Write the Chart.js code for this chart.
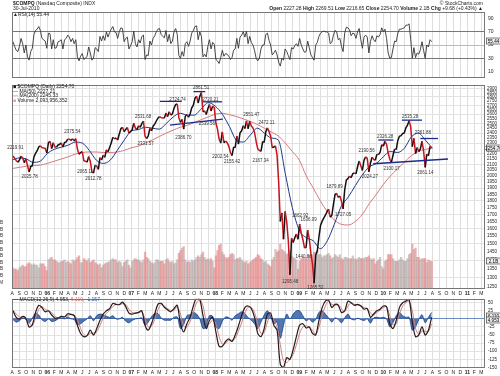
<!DOCTYPE html>
<html>
<head>
<meta charset="utf-8">
<script src="https://cdn.jsdelivr.net/npm/chart.js@4/dist/chart.umd.min.js"></script>
<style>
html,body{margin:0;padding:0;background:#fff}
body{width:500px;height:376px;position:relative;overflow:hidden;font-family:"Liberation Sans",Arial,sans-serif}
canvas{position:absolute;left:0}
.t{position:absolute;font-size:5px;line-height:5px;white-space:nowrap;color:#222}
</style>
</head>
<body>
<canvas id="rsi" width="500" height="84" style="top:0"></canvas>
<canvas id="price" width="500" height="217" style="top:80px"></canvas>
<canvas id="macd" width="500" height="83" style="top:293px"></canvas>

<div class="t" style="left:13px;top:1px"><b>$COMPQ</b> (Nasdaq Composite) INDX</div>
<div class="t" style="left:13px;top:6px">30-Jul-2010</div>
<div class="t" style="right:17px;top:1px">© StockCharts.com</div>
<div class="t" style="right:17px;top:6px"><b>Open</b> 2227.28 <b>High</b> 2269.51 <b>Low</b> 2216.65 <b>Close</b> 2254.70 <b>Volume</b> 2.1B <b>Chg</b> +9.68 (+0.43%) ▲</div>
<div class="t" style="left:13px;top:12px">▲RSI(14) 55.44</div>
<div class="t" style="left:13px;top:84px"><span style="color:#000">■</span> $COMPQ (Daily) 2254.70</div>
<div class="t" style="left:13px;top:88.5px"><span style="color:#1d3a8a">—</span> MA(50) 2227.21</div>
<div class="t" style="left:13px;top:93px"><span style="color:#d66">—</span> MA(200) 2245.33</div>
<div class="t" style="left:13px;top:97.5px"><span style="color:#e99">■</span> Volume 2,093,956,352</div>
<div class="t" style="left:13px;top:297px"><span style="color:#222">—</span> MACD(12,26,9) 4.953, <span style="color:#c66">6.110</span>, <span style="color:#2a5a9a">-1.157</span></div>

<script>
const FONT='"Liberation Sans", Arial, sans-serif'
const X_MIN=2005.58, X_MAX=2011.21
const firstWeek=2005.592      // Fri 5-Aug-2005
const weekStep=7/365.25

// weekly $COMPQ values (close, extremes used at the big turns)
const close05=[2177,2157,2136,2120,2141,2176,2160,2116,2152,2090,2035,2082,2090,2169,2203,2227,2263,2273,2256,2253,2249,2205]
const close06=[2305,2317,2247,2304,2262,2261,2282,2288,2302,2262,2306,2312,2340,2339,2326,2342,2322,2343,2243,2193,2210,2219,2135,2130,2121,2172,2130,2038,2025,2094,2086,2057,2163,2141,2184,2165,2235,2218,2258,2300,2357,2342,2350,2330,2390,2445,2460,2413,2437,2457,2401,2415]
const close07=[2434,2502,2451,2435,2475,2459,2497,2525,2368,2345,2372,2448,2422,2471,2492,2526,2557,2573,2562,2559,2557,2613,2573,2627,2589,2603,2666,2707,2715,2562,2511,2544,2440,2577,2596,2566,2602,2671,2701,2780,2805,2726,2804,2850,2627,2637,2596,2661,2709,2635,2691,2674]
const close08=[2504,2440,2340,2300,2413,2304,2321,2303,2271,2212,2180,2258,2261,2370,2290,2402,2423,2476,2445,2528,2444,2523,2474,2454,2406,2316,2245,2230,2220,2310,2310,2414,2453,2415,2368,2256,2262,2273,2183,1947,1650,1711,1530,1721,1647,1517,1316,1536,1509,1540,1564,1530]
const close09=[1632,1571,1530,1477,1476,1591,1534,1441,1378,1270,1431,1457,1546,1622,1652,1673,1694,1719,1739,1680,1692,1774,1849,1858,1827,1838,1797,1740,1886,1966,1979,2000,1985,2020,2028,2018,2080,2132,2090,2048,2139,2170,2155,2035,2112,2167,2146,2138,2194,2190,2212,2285,2269]
const close10=[2317,2288,2205,2147,2120,2184,2243,2238,2326,2368,2374,2395,2402,2454,2481,2530,2461,2265,2347,2200,2257,2219,2243,2320,2224,2075,2196,2179,2269,2255]

// weekly volume, billions
const vol05=[1.6,1.5,1.5,1.4,1.6,1.7,1.8,1.7,1.7,1.9,2.0,1.9,1.8,1.9,1.8,1.8,1.6,1.9,1.9,1.9,1.7,1.4]
const vol06=[2.2,2.3,2.4,2.2,2.2,2.1,2.0,2.0,2.1,2.1,2.2,2.0,2.1,2.0,1.9,2.2,2.1,2.2,2.4,2.5,2.0,2.0,2.3,2.2,2.1,2.3,2.0,2.1,2.2,2.0,1.9,1.8,1.9,1.6,1.8,1.9,2.0,2.0,2.1,2.2,2.3,2.2,2.2,2.0,2.1,2.0,1.7,2.0,2.1,2.2,1.8,1.6]
const vol07=[2.1,2.2,2.3,2.2,2.2,2.1,2.0,2.2,2.8,2.4,2.3,2.1,2.0,1.9,2.0,2.2,2.2,2.1,2.1,2.1,1.9,2.2,2.3,2.1,2.0,2.1,1.9,2.0,2.2,2.7,2.9,3.1,3.2,2.2,2.0,2.1,2.0,2.2,2.1,2.2,2.4,2.5,2.4,2.6,2.8,2.4,2.2,2.3,2.2,2.3,2.1,1.6]
const vol08=[2.5,2.9,3.3,3.4,2.8,2.6,2.4,2.3,2.4,2.6,2.7,2.6,2.2,2.3,2.3,2.4,2.2,2.1,2.0,2.1,1.9,2.0,2.1,2.2,2.3,2.4,2.6,2.5,2.3,2.2,2.0,2.1,1.9,1.8,1.7,2.2,2.4,3.0,2.8,2.9,3.4,3.0,2.9,2.8,2.6,2.7,2.9,2.5,2.4,2.3,2.2,1.5]
const vol09=[2.1,2.3,2.4,2.3,2.4,2.3,2.5,2.5,2.6,2.8,2.8,2.9,2.6,2.6,2.4,2.5,2.5,2.6,2.7,2.5,2.3,2.4,2.6,2.5,2.4,2.6,2.3,2.2,2.4,2.4,2.3,2.3,2.3,2.5,2.3,2.2,2.3,2.4,2.3,2.3,2.3,2.4,2.4,2.5,2.3,2.2,2.3,1.9,2.1,2.2,2.4,1.7,1.5]
const vol10=[2.1,2.2,2.6,2.6,2.6,2.3,2.1,2.1,2.1,2.2,2.4,2.2,2.1,2.1,2.3,2.6,2.7,3.4,3.0,3.1,2.4,2.4,2.2,2.3,2.3,2.3,2.0,2.2,2.1,2.1]

// RSI(14), one reading per week
const rsi05=[55,48,42,40,48,60,52,38,50,32,27,40,45,66,72,74,78,72,60,58,56,45]
const rsi06=[68,67,44,58,45,46,55,56,58,44,58,60,65,62,55,60,52,58,32,26,33,37,28,30,33,47,38,27,30,46,44,40,63,56,64,57,70,62,69,74,78,70,69,60,70,76,75,55,60,62,44,49]
const rsi07=[55,71,52,47,58,53,63,65,28,35,34,56,50,60,64,70,74,75,66,63,61,72,55,66,52,56,70,75,66,34,30,40,33,52,55,48,56,68,72,78,79,58,70,63,32,36,32,48,58,44,54,51]
const rsi08=[28,26,22,31,42,33,37,36,33,28,31,42,44,60,45,62,65,70,62,71,52,63,54,50,42,30,26,30,44,50,50,66,68,57,50,35,38,42,35,24,18,30,27,44,40,34,28,46,44,49,52,48]
const rsi09=[60,50,44,39,40,56,46,35,31,27,50,54,63,68,70,71,70,70,68,52,54,65,72,70,58,60,48,40,68,77,76,73,64,68,67,60,70,75,58,45,62,65,62,38,55,64,58,55,64,62,66,76,70]
const rsi10=[74,60,38,30,31,44,56,55,68,74,74,75,76,80,80,82,58,30,46,31,38,36,43,55,42,30,50,47,58,55]

// MACD(12,26,9), one reading every two weeks
const macd05=[25,5,0,8,2,-25,-18,20,42,35,22]
const macd06=[25,12,2,3,8,6,16,14,10,-20,-45,-55,-52,-35,-50,-30,-5,15,25,32,48,45,44,52,38,18]
const macd07=[15,18,20,25,-20,-35,-15,15,45,48,36,28,22,32,42,-15,-40,-15,5,40,65,60,10,-30,-5,5]
const macd08=[-40,-85,-85,-70,-62,-70,-50,-22,10,35,40,32,5,-45,-55,-30,15,18,-20,-35,-140,-150,-120,-125,-95,-55]
const macd09=[-20,-15,-28,-25,-45,-50,-5,35,55,58,35,45,42,20,25,55,50,42,45,40,30,32,5,15,25,30]
const macd10=[40,38,-15,-30,-5,35,50,55,60,-10,-55,-50,-25,-50,-35,5]
const sig05=[27,15,6,5,4,-12,-20,2,30,38,30]
const sig06=[25,20,8,3,5,6,10,14,12,-2,-30,-48,-52,-45,-44,-40,-20,2,17,27,38,45,44,47,45,30]
const sig07=[20,18,19,22,0,-25,-22,-2,28,45,40,32,26,27,36,15,-22,-25,-8,20,50,60,40,-5,-15,-3]
const sig08=[-15,-55,-78,-76,-66,-66,-60,-38,-12,18,36,36,20,-15,-45,-42,-10,10,-5,-25,-80,-130,-135,-125,-110,-80]
const sig09=[-45,-25,-22,-25,-35,-48,-25,10,40,55,45,42,44,32,22,40,50,45,43,42,35,32,18,12,20,27]
const sig10=[35,38,10,-18,-15,15,40,50,55,25,-30,-48,-38,-38,-40,-15]
const hist05=[-2,-10,-6,3,-2,-13,2,18,12,-3,-8]
const hist06=[0,-8,-6,0,3,0,6,0,-2,-18,-15,-7,0,10,-6,10,15,13,8,5,10,0,0,5,-7,-12]
const hist07=[-5,0,1,3,-20,-10,7,17,17,3,-4,-4,-4,5,6,-30,-18,10,13,20,15,0,-30,-25,10,8]
const hist08=[-25,-30,-7,6,4,-4,10,16,22,17,4,-4,-15,-30,-10,12,25,8,-15,-10,-60,-20,15,0,15,25]
const hist09=[25,10,-6,0,-10,-2,20,25,15,3,-10,3,-2,-12,3,15,0,-3,2,-2,-5,0,-13,3,5,3]
const hist10=[5,0,-25,-12,10,20,10,5,5,-35,-25,-2,13,-12,5,20]

// moving averages at month ends, Jul-2005 .. Jul-2010
const ma50=[2140,2160,2150,2120,2130,2200,
  2240,2260,2280,2310,2300,2230,2140,2110,2140,2230,2330,2420,
  2435,2460,2450,2440,2500,2570,2610,2590,2590,2660,2730,2690,
  2600,2470,2330,2310,2380,2450,2400,2350,2330,2020,1750,1590,
  1540,1520,1470,1520,1630,1760,1830,1920,2010,2080,2110,2170,
  2220,2210,2250,2360,2400,2330,2250]
const ma200=[2065,2075,2085,2090,2095,2110,
  2130,2150,2170,2195,2210,2215,2215,2210,2210,2215,2230,2255,
  2270,2300,2330,2365,2400,2430,2460,2480,2510,2540,2570,2600,
  2610,2595,2575,2550,2520,2490,2450,2410,2370,2300,2220,2140,
  2000,1900,1800,1720,1660,1630,1625,1650,1700,1780,1850,1930,
  2000,2060,2120,2180,2220,2240,2250]
const maFirst=2005.583

// peak / trough labels on the price panel
const annX=[2005.62,2005.79,2006.30,2006.45,2006.55,2007.14,2007.17,2007.55,2007.62,2007.83,2007.90,2007.94,2008.06,2008.20,2008.43,2008.54,2008.61,2008.89,2009.01,2009.05,2009.11,2009.19,2009.42,2009.52,2009.80,2009.84,2010.02,2010.10,2010.32,2010.47,2010.50]
const annVal=[2219.91,2025.78,2375.54,2065.11,2012.78,2531.68,2331.57,2724.74,2386.70,2861.51,2539.56,2720.21,2202.54,2155.42,2551.47,2167.34,2472.11,1295.48,1662.92,1440.86,1636.09,1265.52,1879.89,1727.05,2190.56,2024.27,2326.28,2100.17,2535.28,2361.88,2061.14]
const annPos=['a','b','a','b','b','a','b','a','b','a','b','a','b','b','a','b','a','b','a','b','a','b','a','b','a','b','a','b','a','a','b']

// hand drawn trend lines
const tlX1=[2007.34,2007.74,2007.85,2007.46,2009.94,2010.22,2010.44,2009.88]
const tlP1=[2745,2861,2740,2481,2330,2535,2345,2107]
const tlX2=[2007.60,2007.88,2008.08,2008.09,2010.12,2010.46,2010.65,2010.77]
const tlP2=[2745,2861,2740,2545,2330,2535,2345,2150]

const monthLetters=['J','F','M','A','M','J','J','A','S','O','N','D']
const rsiTicks=[10,30,50,70,90]
const volTicks=[0.5,1,1.5,2,2.5,3,3.5,4,4.5,5]
const macdTicks=[50,25,0,-25,-50,-75,-100,-125,-150]
const lastRsi=55.44, lastClose=2254.70, lastVol=2.09, lastMacd=4.953, lastSignal=6.110

const close=[...close05,...close06,...close07,...close08,...close09,...close10]
const vol=[...vol05,...vol06,...vol07,...vol08,...vol09,...vol10]
const rsi=[...rsi05,...rsi06,...rsi07,...rsi08,...rsi09,...rsi10]
const macd=[...macd05,...macd06,...macd07,...macd08,...macd09,...macd10]
const sig=[...sig05,...sig06,...sig07,...sig08,...sig09,...sig10]
const hist=[...hist05,...hist06,...hist07,...hist08,...hist09,...hist10]

const wk=i=>firstWeek+i*weekStep
const pts=(arr,step)=>arr.map((v,i)=>({x:wk(i*step),y:v}))
const maPts=arr=>arr.map((v,i)=>({x:maFirst+i/12,y:v}))

const monthTicks=[]
for(let y=2005;y<=2011;y++){
  for(let m=0;m<12;m++){
    const v=y+m/12
    if(v>X_MIN && v<X_MAX) monthTicks.push(v)
  }
}
const monthOf=v=>Math.round((v-Math.floor(v+1e-6))*12)%12
const tickLabel=v=>{
  const m=monthOf(v)
  if(m==0) return String(Math.round(v)).slice(2)
  return monthLetters[m]
}

function xAxis(labels){
  return {
    type:'linear',min:X_MIN,max:X_MAX,offset:false,
    afterBuildTicks:s=>{s.ticks=monthTicks.map(v=>({value:v}))},
    afterFit:s=>{s.height=labels?8:0},
    grid:{color:'#dedede',drawTicks:false,offset:false},
    border:{display:false},
    ticks:{display:labels,autoSkip:false,maxRotation:0,padding:2,color:'#222',
      font:c=>({family:FONT,size:5,weight:(c.tick && monthOf(c.tick.value)==0)?'bold':'normal'}),
      callback:v=>tickLabel(v)}
  }
}

const frame={id:'frame',afterDatasetsDraw(c){
  const a=c.chartArea,g=c.ctx
  g.save();g.strokeStyle='#777';g.lineWidth=1
  g.strokeRect(Math.round(a.left)+0.5,Math.round(a.top)+0.5,Math.round(a.width)-1,Math.round(a.height)-1)
  g.restore()
}}

function boxes(list){
  return {id:'boxes',afterDraw(c){
    const g=c.ctx
    g.save();g.font='4.5px '+FONT;g.textAlign='center';g.textBaseline='middle'
    for(const b of list){
      const y=Math.round(c.scales[b.axis].getPixelForValue(b.value))
      const x=c.chartArea.right+1
      g.fillStyle='#eee';g.fillRect(x,y-3,15,6)
      g.strokeStyle='#333';g.lineWidth=0.6;g.strokeRect(x+0.5,y-3,14,6)
      g.fillStyle='#000';g.fillText(b.text,x+7.5,y+0.3)
    }
    g.restore()
  }}
}

const notes={id:'notes',afterDatasetsDraw(c){
  const g=c.ctx,xs=c.scales.x,ys=c.scales.y
  g.save()
  g.strokeStyle='#1c2a8c';g.lineWidth=1.3
  for(let i=0;i<tlX1.length;i++){
    g.beginPath()
    g.moveTo(xs.getPixelForValue(tlX1[i]),ys.getPixelForValue(tlP1[i]))
    g.lineTo(xs.getPixelForValue(tlX2[i]),ys.getPixelForValue(tlP2[i]))
    g.stroke()
  }
  g.font='4.5px '+FONT;g.fillStyle='#333';g.textAlign='center'
  for(let i=0;i<annX.length;i++){
    const x=xs.getPixelForValue(annX[i])
    let y=ys.getPixelForValue(annVal[i])
    if(annPos[i]=='a'){g.textBaseline='bottom';y-=1.5}else{g.textBaseline='top';y+=1.5}
    g.fillText(annVal[i].toFixed(2),x,y)
  }
  g.restore()
}}

const common={responsive:false,animation:false,events:[],
  plugins:{legend:{display:false},tooltip:{enabled:false}}}

// RSI panel
new Chart(document.getElementById('rsi'),{
  type:'line',
  data:{datasets:[{data:pts(rsi,1),borderColor:'#333',borderWidth:0.9,pointRadius:0,tension:0}]},
  options:{...common,
    layout:{padding:{left:12,top:12,bottom:3,right:0}},
    scales:{
      x:xAxis(false),
      y:{position:'right',min:0,max:100,
        afterBuildTicks:s=>{s.ticks=rsiTicks.map(v=>({value:v}))},
        afterFit:s=>{s.width=15},
        grid:{drawTicks:false,color:c=>c.tick.value==50?'#bbb':(c.tick.value==30||c.tick.value==70?'#777':'rgba(0,0,0,0)')},
        border:{display:false},
        ticks:{font:{family:FONT,size:5},color:'#222',padding:3}}
    }},
  plugins:[frame,boxes([{axis:'y',value:lastRsi,text:lastRsi.toFixed(2)}])]
})

// price + volume panel
const volColors=vol.map((v,i)=>i>0 && close[i]<close[i-1]?'rgba(226,125,125,0.6)':'rgba(170,155,155,0.55)')
const priceTicks=[]
for(let p=1250;p<=2900;p+=50) priceTicks.push(p)

new Chart(document.getElementById('price'),{
  type:'bar',
  data:{datasets:[
    {type:'line',data:pts(close,1),yAxisID:'y',borderColor:'#111',borderWidth:1.5,pointRadius:0,tension:0,order:0,
      segment:{borderColor:s=>s.p1.parsed.y<s.p0.parsed.y?'#c8141e':'#111'}},
    {type:'line',data:maPts(ma50),yAxisID:'y',borderColor:'#1d3a8a',borderWidth:1,pointRadius:0,cubicInterpolationMode:'monotone',order:1},
    {type:'line',data:maPts(ma200),yAxisID:'y',borderColor:'#d77a7a',borderWidth:1,pointRadius:0,cubicInterpolationMode:'monotone',order:2},
    {type:'bar',data:pts(vol,1),yAxisID:'v',backgroundColor:volColors,barPercentage:1,categoryPercentage:1,order:3}
  ]},
  options:{...common,
    layout:{padding:{left:0,top:3,bottom:0,right:0}},
    scales:{
      x:xAxis(true),
      y:{type:'logarithmic',position:'right',min:1239,max:2946,
        afterBuildTicks:s=>{s.ticks=priceTicks.map(v=>({value:v}))},
        afterFit:s=>{s.width=15},
        grid:{drawTicks:false,color:c=>c.tick.value%100==0?'#e2e2e2':'rgba(0,0,0,0)'},
        border:{display:false},
        ticks:{autoSkip:false,font:{family:FONT,size:4.5},color:'#222',padding:2,callback:v=>String(v)}},
      v:{type:'linear',position:'left',min:0,max:15.45,
        afterBuildTicks:s=>{s.ticks=volTicks.map(v=>({value:v}))},
        afterFit:s=>{s.width=12},
        grid:{display:false},
        border:{display:false},
        ticks:{autoSkip:false,font:{family:FONT,size:4.5},color:'#222',padding:1,
          callback:v=>v<1?Math.round(v*1000)+'M':v.toFixed(1)+'B'}}
    }},
  plugins:[frame,notes,boxes([{axis:'y',value:lastClose,text:lastClose.toFixed(2)},{axis:'v',value:lastVol,text:'2.1B'}])]
})

// MACD panel
new Chart(document.getElementById('macd'),{
  type:'line',
  data:{datasets:[
    {data:pts(hist,2),fill:'origin',backgroundColor:'rgba(50,95,165,0.85)',borderColor:'#1f3f80',borderWidth:0.8,pointRadius:0,tension:0.3,order:3},
    {data:pts(sig,2),borderColor:'#d08080',borderWidth:1,pointRadius:0,tension:0.3,order:2},
    {data:pts(macd,2),borderColor:'#2a1a1a',borderWidth:1.2,pointRadius:0,tension:0.3,order:1}
  ]},
  options:{...common,
    layout:{padding:{left:12,top:3,bottom:0,right:0}},
    scales:{
      x:xAxis(true),
      y:{position:'right',min:-152,max:62.5,
        afterBuildTicks:s=>{s.ticks=macdTicks.map(v=>({value:v}))},
        afterFit:s=>{s.width=15},
        grid:{drawTicks:false,color:c=>c.tick.value==0?'#6a8cc0':'#e2e2e2'},
        border:{display:false},
        ticks:{autoSkip:false,font:{family:FONT,size:4.5},color:'#222',padding:3}}
    }},
  plugins:[frame,boxes([{axis:'y',value:lastSignal+3,text:lastSignal.toFixed(3)},{axis:'y',value:lastMacd-7,text:lastMacd.toFixed(3)}])]
})
</script>
</body>
</html>
